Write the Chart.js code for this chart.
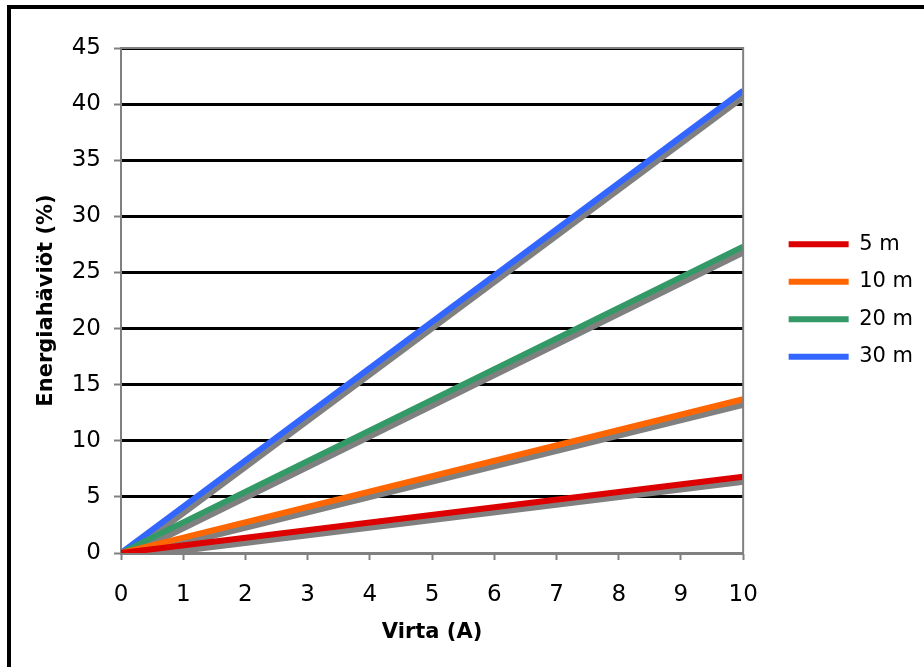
<!DOCTYPE html>
<html><head><meta charset="utf-8">
<script src="https://cdn.jsdelivr.net/npm/chart.js@4.4.0/dist/chart.umd.min.js"></script>
<style>
html,body{margin:0;padding:0;background:#fff;overflow:hidden;}
#wrap{position:relative;width:924px;height:667px;overflow:hidden;}
#frame{position:absolute;left:7px;top:5px;width:2000px;height:2000px;border-left:4px solid #000;border-top:4px solid #000;pointer-events:none;}
</style></head><body>
<div id="wrap"><canvas id="c" width="924" height="667"></canvas><div id="frame"></div></div>
<script>
// ---- data ----
const currentA = [0, 10];                 // Virta (A)
const seriesNames = ['5 m', '10 m', '20 m', '30 m'];
const loss5m  = [0, 6.8];
const loss10m = [0, 13.7];
const loss20m = [0, 27.3];
const loss30m = [0, 41.2];
const xTickValues = [0, 1, 2, 3, 4, 5, 6, 7, 8, 9, 10];
const yTickValues = [0, 5, 10, 15, 20, 25, 30, 35, 40, 45];
const xTitle = 'Virta (A)';
const yTitle = 'Energiahäviöt (%)';

// ---- styles ----
const lineColors = ['#DD0000', '#FF6600', '#339966', '#3366FF'];
const FONT = 'DejaVu Sans';
const LEGEND_SHIFT = 29;

const seriesValues = [loss5m, loss10m, loss20m, loss30m];
const datasets = seriesValues.map((vals, i) => ({
  label: seriesNames[i],
  data: currentA.map((x, j) => ({x: x, y: vals[j]})),
  borderColor: lineColors[i],
  backgroundColor: lineColors[i],
  borderWidth: 6,
  pointRadius: 0,
  tension: 0,
  clip: 0
}));

const shadowPlugin = {
  id: 'shadow',
  beforeDatasetDraw(chart) {
    const ctx = chart.ctx;
    ctx.save();
    ctx.shadowColor = '#808080';
    ctx.shadowOffsetX = 2;
    ctx.shadowOffsetY = 5;
    ctx.shadowBlur = 0;
  },
  afterDatasetDraw(chart) { chart.ctx.restore(); }
};

const frameRight = {
  id: 'frameRight',
  afterDatasetsDraw(chart) {
    const {ctx, chartArea: a} = chart;
    ctx.save();
    ctx.strokeStyle = '#808080';
    ctx.lineWidth = 2;
    ctx.beginPath();
    ctx.moveTo(a.left, a.top);
    ctx.lineTo(a.right, a.top);
    ctx.lineTo(a.right, a.bottom);
    ctx.stroke();
    ctx.restore();
  }
};

const legendShift = {
  id: 'legendShift',
  afterLayout(chart) {
    if (chart.legend) { chart.legend.left += LEGEND_SHIFT; chart.legend.right += LEGEND_SHIFT; }
  }
};

new Chart(document.getElementById('c'), {
  type: 'line',
  data: { datasets },
  plugins: [shadowPlugin, frameRight, legendShift],
  options: {
    responsive: false,
    animation: false,
    layout: { padding: { left: 14, top: 48, right: 30, bottom: 0 } },
    plugins: {
      tooltip: { enabled: false },
      legend: {
        position: 'right',
        fullSize: false,
        align: 'center',
        labels: {
          boxWidth: 60,
          boxHeight: 6,
          padding: 16.5,
          color: '#000',
          font: { family: FONT, size: 21 },
          generateLabels(chart) {
            return chart.data.datasets.map((d, i) => ({
              text: d.label,
              fillStyle: d.borderColor,
              strokeStyle: d.borderColor,
              lineWidth: 0,
              hidden: false,
              datasetIndex: i,
              fontColor: '#000'
            }));
          }
        }
      }
    },
    scales: {
      x: {
        type: 'linear',
        min: xTickValues[0],
        max: xTickValues[xTickValues.length - 1],
        afterFit(s) { s.height = 667 - 553; },
        afterBuildTicks(s) { s.ticks = xTickValues.map(v => ({value: v})); },
        border: { color: '#808080', width: 2 },
        grid: { drawOnChartArea: false, drawTicks: true, tickLength: 7, tickColor: '#808080', tickWidth: 2 },
        ticks: { padding: 21, color: '#000', maxRotation: 0, autoSkip: false,
                 font: { family: FONT, size: 23 } },
        title: { display: true, text: xTitle, color: '#000',
                 font: { family: FONT, size: 21, weight: 'bold' },
                 padding: { top: 0, bottom: 22 } }
      },
      y: {
        type: 'linear',
        min: yTickValues[0],
        max: yTickValues[yTickValues.length - 1],
        afterFit(s) { s.width = 121 - 14; },
        afterBuildTicks(s) { s.ticks = yTickValues.map(v => ({value: v})); },
        border: { color: '#808080', width: 2 },
        grid: {
          color: c => (c.tick && c.tick.value === 0) ? '#808080' : '#000',
          lineWidth: 3,
          drawTicks: true, tickLength: 7, tickColor: '#808080', tickWidth: 2
        },
        ticks: { padding: 13, color: '#000', autoSkip: false,
                 font: { family: FONT, size: 23 } },
        title: { display: true, text: yTitle, color: '#000',
                 font: { family: FONT, size: 21, weight: 'bold' },
                 padding: { top: 20, bottom: 0 } }
      }
    }
  }
});
</script>
</body></html>
